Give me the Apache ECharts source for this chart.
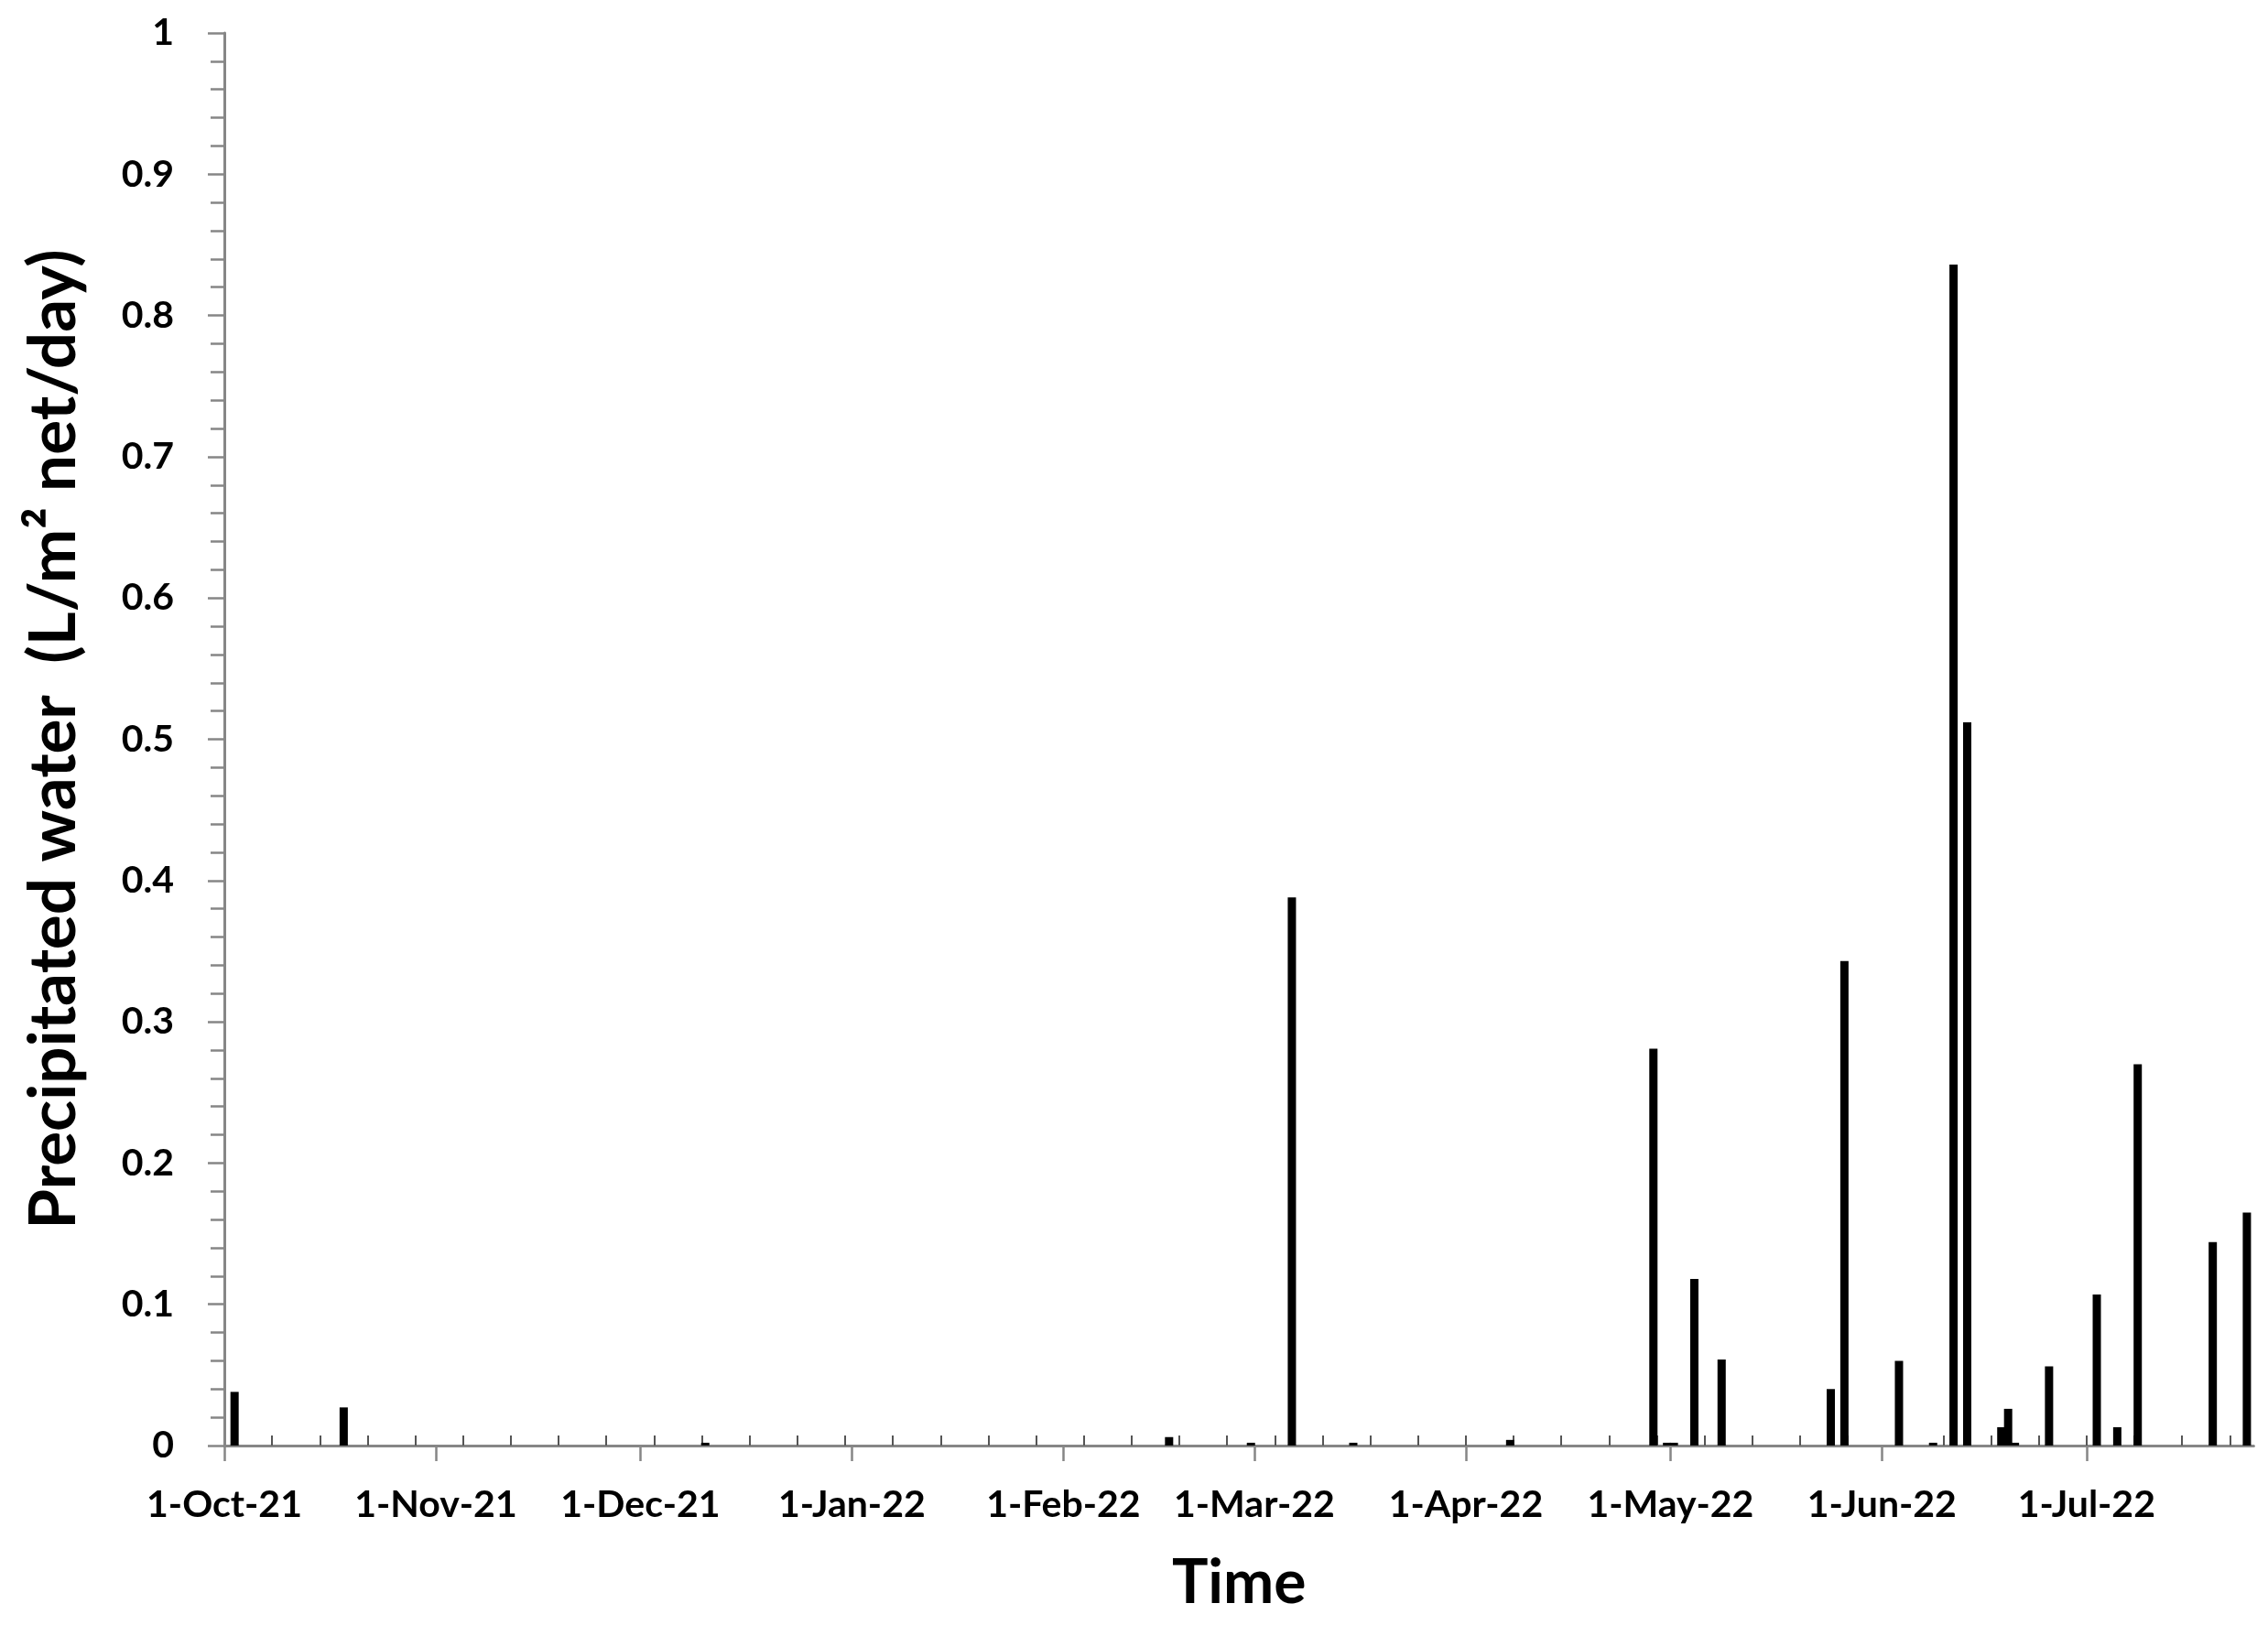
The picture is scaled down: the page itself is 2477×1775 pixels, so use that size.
<!DOCTYPE html>
<html>
<head>
<meta charset="utf-8">
<script src="https://cdn.jsdelivr.net/npm/echarts@6/dist/echarts.min.js"></script>
<style>
  html, body { margin: 0; padding: 0; background: #ffffff; }
  #chart { width: 2477px; height: 1775px; }
</style>
</head>
<body>
<div id="chart"></div>
<script>
// ---- Data ----
const startDate = '2021-10-01';
const dates = ['2021-10-02', '2021-10-18', '2021-12-10', '2022-02-16', '2022-02-28',
  '2022-03-06', '2022-03-15', '2022-04-07', '2022-04-28', '2022-04-30', '2022-05-01',
  '2022-05-04', '2022-05-08', '2022-05-24', '2022-05-26', '2022-06-03', '2022-06-08',
  '2022-06-11', '2022-06-13', '2022-06-18', '2022-06-19', '2022-06-20', '2022-06-25',
  '2022-07-02', '2022-07-05', '2022-07-08', '2022-07-19', '2022-07-24'];
const values = [0.038, 0.027, 0.002, 0.006, 0.002,
  0.388, 0.002, 0.004, 0.281, 0.002, 0.002,
  0.118, 0.061, 0.040, 0.343, 0.060, 0.002,
  0.836, 0.512, 0.013, 0.026, 0.002, 0.056,
  0.107, 0.013, 0.270, 0.144, 0.165];
const monthTicks = ['2021-10-01', '2021-11-01', '2021-12-01', '2022-01-01', '2022-02-01',
  '2022-03-01', '2022-04-01', '2022-05-01', '2022-06-01', '2022-07-01'];
const axisEndDate = '2022-07-26';
const yTitle = 'Precipitated water  (L/m\u00B2 net/day)';
const xTitle = 'Time';

// ---- Helpers ----
const DAY = 86400000;
const t0 = Date.parse(startDate + 'T00:00:00Z');
function dayIndex(s) { return Math.round((Date.parse(s + 'T00:00:00Z') - t0) / DAY); }
const MON = ['Jan','Feb','Mar','Apr','May','Jun','Jul','Aug','Sep','Oct','Nov','Dec'];
function fmtDay(v) {
  const d = new Date(t0 + Math.round(v) * DAY);
  return d.getUTCDate() + '-' + MON[d.getUTCMonth()] + '-' + String(d.getUTCFullYear()).slice(2);
}
const xMax = dayIndex(axisEndDate) - 0.5;
const monthDays = monthTicks.map(dayIndex);
const weekDays = [];
for (let d = 7; d < xMax; d += 7) weekDays.push(d);

const barData = dates.map((d, i) => [dayIndex(d) + 0.5, values[i]]);

const FONT = 'Lato';
const axisGray = '#868686';

const chart = echarts.init(document.getElementById('chart'), null, { renderer: 'canvas' });
chart.setOption({
  animation: false,
  backgroundColor: '#ffffff',
  grid: { left: 245, top: 36, width: xMax * 7.45, height: 1543 },
  xAxis: [
    {
      type: 'value', min: 0, max: xMax, position: 'bottom',
      axisLine: { show: true, lineStyle: { color: axisGray, width: 3 } },
      axisTick: { show: true, inside: false, length: 17, customValues: monthDays,
                  lineStyle: { color: axisGray, width: 2.5 } },
      axisLabel: { show: true, customValues: monthDays, formatter: fmtDay,
                   fontFamily: FONT, fontWeight: 'bold', fontSize: 41, color: '#000', margin: 44 },
      splitLine: { show: false },
      name: xTitle, nameLocation: 'middle', nameGap: 118,
      nameTextStyle: { fontFamily: FONT, fontWeight: 'bold', fontSize: 66, color: '#000' }
    },
    {
      type: 'value', min: 0, max: xMax, position: 'bottom', offset: 0,
      axisLine: { show: false },
      axisTick: { show: true, inside: true, length: 11, customValues: weekDays,
                  lineStyle: { color: '#555555', width: 2 } },
      axisLabel: { show: false },
      splitLine: { show: false }
    }
  ],
  yAxis: {
    type: 'value', min: 0, max: 1, interval: 0.1,
    axisLine: { show: true, lineStyle: { color: axisGray, width: 3 } },
    axisTick: { show: true, inside: false, length: 18, lineStyle: { color: axisGray, width: 2.5 } },
    minorTick: { show: true, splitNumber: 5, length: 15, lineStyle: { color: axisGray, width: 2.5 } },
    axisLabel: { fontFamily: FONT, fontWeight: 'bold', fontSize: 41, color: '#000', margin: 55 },
    splitLine: { show: false },
    name: yTitle, nameLocation: 'middle', nameGap: 150, nameRotate: 90,
    nameTextStyle: { fontFamily: FONT, fontWeight: 'bold', fontSize: 71, color: '#000' }
  },
  series: [{
    type: 'bar', xAxisIndex: 0, yAxisIndex: 0,
    data: barData, barWidth: 9,
    itemStyle: { color: '#000000' }
  }]
});
</script>
</body>
</html>
